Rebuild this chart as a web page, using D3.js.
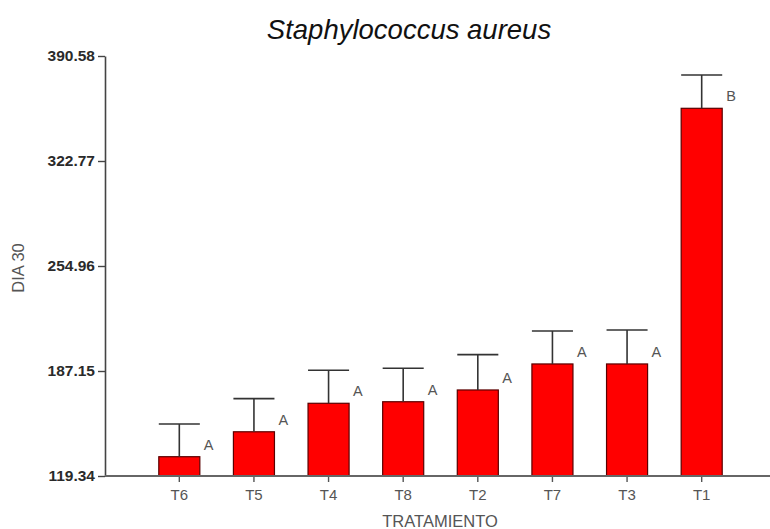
<!DOCTYPE html>
<html>
<head>
<meta charset="utf-8">
<script src="https://cdn.jsdelivr.net/npm/d3@7"></script>
<style>
  html, body { margin: 0; padding: 0; background: #fff; }
  svg { display: block; font-family: Arial, "Liberation Sans", sans-serif; }
</style>
</head>
<body>
<svg id="chart" width="770" height="529"></svg>
<script>
// Treatments, ordered as plotted
const categories = ["T6", "T5", "T4", "T8", "T2", "T7", "T3", "T1"];
// Mean count at day 30 per treatment
const means = [131.8, 147.9, 166.3, 167.3, 174.9, 191.7, 191.7, 356.8];
// Upper error (drawn above each bar)
const errors = [21.1, 21.4, 21.3, 21.6, 22.8, 21.3, 21.9, 21.5];
// Significance grouping letters
const letters = ["A", "A", "A", "A", "A", "A", "A", "B"];
// Y axis tick values
const yTicks = [119.34, 187.15, 254.96, 322.77, 390.58];

const svg = d3.select("#chart");
const axisX0 = 105, axisRight = 770;
const yTop = 56, yBase = 476;

const x = d3.scaleBand()
  .domain(categories)
  .range([142, 739])
  .paddingInner(0.45)
  .paddingOuter(0.225);

const y = d3.scaleLinear()
  .domain([yTicks[0], yTicks[yTicks.length - 1]])
  .range([yBase, yTop]);

// Title
svg.append("text")
  .attr("x", 409).attr("y", 39)
  .attr("text-anchor", "middle")
  .attr("font-size", 27.5)
  .attr("font-style", "italic")
  .attr("fill", "#111")
  .text("Staphylococcus aureus");

// Y axis
const yAxis = d3.axisLeft(y).tickValues(yTicks).tickFormat(d3.format(".2f")).tickSize(7).tickSizeOuter(0);
const gy = svg.append("g").attr("transform", `translate(${axisX0},0)`).call(yAxis);
gy.select(".domain").attr("stroke", "#444").attr("stroke-width", 1.6);
gy.selectAll(".tick line").attr("stroke", "#444").attr("stroke-width", 1.4);
gy.selectAll(".tick text")
  .attr("x", -10)
  .attr("font-size", 15.5)
  .attr("font-weight", "bold")
  .attr("fill", "#2a2a2a")
  .attr("font-family", "Arial, 'Liberation Sans', sans-serif");

// X axis
const xAxis = d3.axisBottom(x).tickSize(6).tickSizeOuter(0);
const gx = svg.append("g").attr("transform", `translate(0,${yBase})`).call(xAxis);
gx.select(".domain").remove();
gx.selectAll(".tick line").attr("stroke", "#555").attr("stroke-width", 1.4);
gx.selectAll(".tick text")
  .attr("y", 13)
  .attr("font-size", 15)
  .attr("fill", "#555")
  .attr("font-family", "Arial, 'Liberation Sans', sans-serif");

// Bars
const data = categories.map((c, i) => ({ c, m: means[i], e: errors[i], l: letters[i] }));

svg.append("g").selectAll("rect")
  .data(data).join("rect")
  .attr("x", d => x(d.c))
  .attr("y", d => y(d.m))
  .attr("width", x.bandwidth())
  .attr("height", d => y(y.domain()[0]) - y(d.m))
  .attr("fill", "#ff0000")
  .attr("stroke", "#5a0000")
  .attr("stroke-width", 1.2);

// Error bars (upper only)
const eg = svg.append("g").attr("stroke", "#333").attr("stroke-width", 1.6);
eg.selectAll("line.stem").data(data).join("line").attr("class", "stem")
  .attr("x1", d => x(d.c) + x.bandwidth() / 2)
  .attr("x2", d => x(d.c) + x.bandwidth() / 2)
  .attr("y1", d => y(d.m))
  .attr("y2", d => y(d.m + d.e));
eg.selectAll("line.cap").data(data).join("line").attr("class", "cap")
  .attr("x1", d => x(d.c))
  .attr("x2", d => x(d.c) + x.bandwidth())
  .attr("y1", d => y(d.m + d.e))
  .attr("y2", d => y(d.m + d.e));

// Grouping letters
svg.append("g").selectAll("text")
  .data(data).join("text")
  .attr("x", d => x(d.c) + x.bandwidth() + 4)
  .attr("y", d => y(d.m) - 7)
  .attr("font-size", 14.5)
  .attr("fill", "#555")
  .text(d => d.l);

// X axis baseline
svg.append("line")
  .attr("x1", axisX0).attr("x2", axisRight)
  .attr("y1", yBase).attr("y2", yBase)
  .attr("stroke", "#666").attr("stroke-width", 2);

// Axis titles
svg.append("text")
  .attr("x", 440).attr("y", 527)
  .attr("text-anchor", "middle")
  .attr("font-size", 16.5)
  .attr("fill", "#555")
  .text("TRATAMIENTO");

svg.append("text")
  .attr("transform", "translate(24,268) rotate(-90)")
  .attr("text-anchor", "middle")
  .attr("font-size", 16.5)
  .attr("fill", "#555")
  .text("DIA 30");
</script>
</body>
</html>
